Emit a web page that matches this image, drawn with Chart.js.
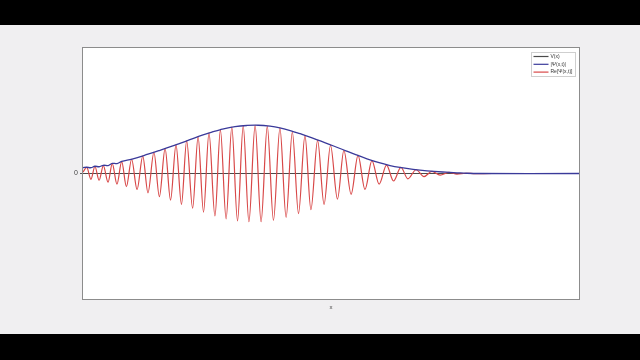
<!DOCTYPE html>
<html>
<head>
<meta charset="utf-8">
<script src="https://cdn.jsdelivr.net/npm/chart.js@4"></script>
<style>
  html, body { margin: 0; padding: 0; background: #000; width: 640px; height: 360px; overflow: hidden; }
  #wrap { position: absolute; left: 0; top: 25px; width: 640px; height: 309px; }
</style>
</head>
<body>
<div id="wrap"><canvas id="c" width="640" height="309"></canvas></div>
<script>
// ---- data ----
const seriesLabels = ['V(x)', '|\u03A8(x,t)|', 'Re[\u03A8(x,t)]'];
const yTickLabels = ['0'];
const xTitle = 'x';

const potentialX = [-10, 10];
const potentialV = [0, 0];

const envX = [-10, -9.85, -9.68, -9.52, -9.35, -9.18, -8.99, -8.82, -8.63, -8.44, -8.02, -7.38, -6.90, -6.41, -6.09, -5.69, -5.16, -4.76, -4.48, -3.87, -3.39, -2.94, -2.46, -2.06, -1.61, -1.25, -0.85, -0.52, 0.08, 0.60, 0.97, 1.45, 1.94, 2.38, 2.78, 3.31, 3.87, 4.64, 5.08, 5.48, 6.0, 10];
const envY = [0.12, 0.13, 0.12, 0.15, 0.14, 0.17, 0.165, 0.21, 0.205, 0.25, 0.30, 0.40, 0.48, 0.565, 0.625, 0.70, 0.80, 0.865, 0.905, 0.97, 0.995, 1.0, 0.98, 0.945, 0.885, 0.825, 0.755, 0.69, 0.575, 0.47, 0.395, 0.305, 0.225, 0.165, 0.125, 0.085, 0.055, 0.027, 0.015, 0.005, 0, 0];

const reX = [-10, -9.85, -9.68, -9.52, -9.35, -9.18, -8.99, -8.82, -8.63, -8.44, -8.25, -8.04, -7.82, -7.59, -7.38, -7.14, -6.92, -6.69, -6.47, -6.25, -6.03, -5.82, -5.58, -5.36, -5.14, -4.92, -4.68, -4.46, -4.23, -4.00, -3.77, -3.54, -3.31, -3.06, -2.82, -2.57, -2.32, -2.06, -1.81, -1.56, -1.31, -1.05, -0.81, -0.54, -0.28, -0.02, 0.26, 0.52, 0.81, 1.09, 1.37, 1.65, 1.94, 2.24, 2.52, 2.82, 3.10, 3.43, 3.75, 4.07, 4.40, 4.76, 5.08, 5.44, 5.81, 6.5, 10];
const reY = [0.03, 0.125, -0.12, 0.145, -0.14, 0.165, -0.18, 0.205, -0.22, 0.245, -0.27, 0.295, -0.33, 0.36, -0.40, 0.44, -0.48, 0.515, -0.55, 0.595, -0.64, 0.675, -0.72, 0.76, -0.80, 0.84, -0.88, 0.905, -0.94, 0.96, -0.98, 0.985, -1.0, 0.995, -1.0, 0.975, -0.97, 0.94, -0.91, 0.86, -0.83, 0.785, -0.75, 0.685, -0.64, 0.585, -0.53, 0.48, -0.43, 0.375, -0.33, 0.265, -0.22, 0.175, -0.155, 0.125, -0.11, 0.078, -0.065, 0.044, -0.035, 0.024, -0.015, 0.005, -0.003, 0, 0];

const colors = ['#4a4a4a', '#3a3a9a', '#d84848'];

function pts(xs, ys) { return xs.map((x, i) => ({ x: x, y: ys[i] })); }

const framePlugin = {
  id: 'frame',
  beforeDraw(chart) {
    const ctx = chart.ctx, a = chart.chartArea;
    ctx.save();
    ctx.fillStyle = '#f0eff1';
    ctx.fillRect(0, 0, chart.width, chart.height);
    ctx.fillStyle = '#ffffff';
    ctx.fillRect(a.left, a.top, a.right - a.left, a.bottom - a.top);
    ctx.restore();
  },
  afterDraw(chart) {
    const ctx = chart.ctx, a = chart.chartArea;
    ctx.save();
    ctx.strokeStyle = '#8c8c8c';
    ctx.lineWidth = 1;
    ctx.strokeRect(Math.round(a.left) - 0.5, Math.round(a.top) - 0.5, Math.round(a.right - a.left) + 1, Math.round(a.bottom - a.top) + 1);
    // legend
    const bx = 531, by = 27, bw = 44, bh = 24;
    ctx.fillStyle = 'rgba(255,255,255,0.9)';
    ctx.fillRect(bx, by, bw, bh);
    ctx.strokeStyle = '#cfcfcf';
    ctx.strokeRect(bx + 0.5, by + 0.5, bw, bh);
    ctx.font = '5px "Liberation Sans", Arial, sans-serif';
    ctx.textBaseline = 'middle';
    ctx.textAlign = 'left';
    chart.data.datasets.forEach((ds, i) => {
      const y = by + 4.5 + i * 7.8;
      ctx.strokeStyle = ds.borderColor;
      ctx.lineWidth = 1.2;
      ctx.beginPath();
      ctx.moveTo(bx + 2.5, y);
      ctx.lineTo(bx + 17.5, y);
      ctx.stroke();
      ctx.fillStyle = '#333';
      ctx.fillText(ds.label, bx + 19.5, y);
    });
    ctx.restore();
  }
};

new Chart(document.getElementById('c'), {
  type: 'line',
  data: {
    datasets: [
      { label: seriesLabels[0], data: pts(potentialX, potentialV), borderColor: colors[0], borderWidth: 1, pointRadius: 0, order: 3 },
      { label: seriesLabels[1], data: pts(envX, envY), borderColor: colors[1], borderWidth: 1.3, pointRadius: 0, tension: 0.4, order: 1 },
      { label: seriesLabels[2], data: pts(reX, reY), borderColor: colors[2], borderWidth: 1.2, pointRadius: 0, cubicInterpolationMode: 'monotone', order: 2 }
    ]
  },
  options: {
    responsive: false,
    animation: false,
    devicePixelRatio: 1,
    layout: { padding: { left: 0, right: 61, top: 23, bottom: 23 } },
    plugins: { legend: { display: false }, tooltip: { enabled: false } },
    scales: {
      x: {
        type: 'linear', min: -10, max: 10,
        ticks: { display: false },
        grid: { display: false },
        border: { display: false },
        title: { display: true, text: xTitle, color: '#444', font: { size: 6, family: '"Liberation Sans", Arial, sans-serif' }, padding: 0 },
        afterFit(s) { s.height = 12; }
      },
      y: {
        type: 'linear', min: -2.6, max: 2.6,
        afterBuildTicks(s) { s.ticks = [{ value: 0 }]; },
        ticks: { callback: () => yTickLabels[0], color: '#444', padding: 2, font: { size: 7, family: '"Liberation Sans", Arial, sans-serif' } },
        grid: { drawOnChartArea: false, drawTicks: true, tickLength: 3, color: '#555' },
        border: { display: false },
        afterFit(s) { s.width = 83; }
      }
    }
  },
  plugins: [framePlugin]
});
</script>
</body>
</html>
